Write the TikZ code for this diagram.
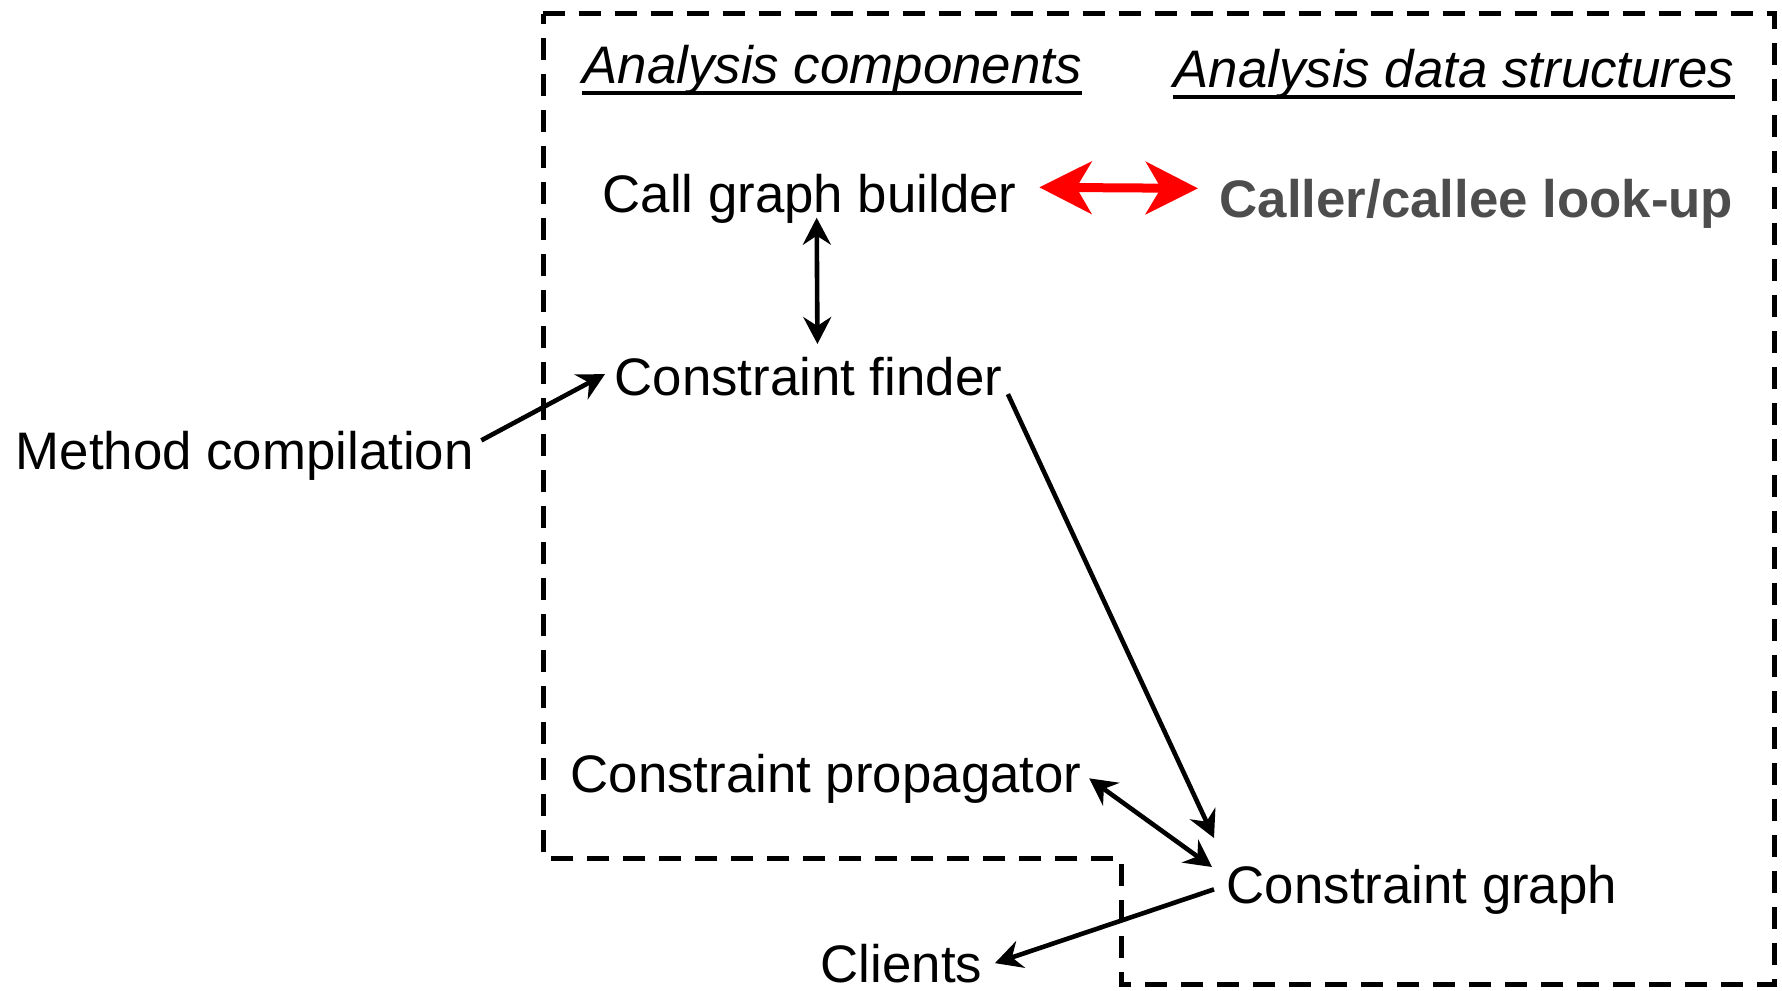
\documentclass[tikz,border=0pt]{standalone}
\usepackage{fontspec}
\setmainfont{Liberation Sans}
\usetikzlibrary{arrows.meta}
\definecolor{lookupgray}{RGB}{77,77,77}
\tikzset{every picture/.style={line width=0.75pt}}

\begin{document}
\begin{tikzpicture}[x=0.5pt,y=0.5pt,yscale=-1,xscale=1,
	lbl/.style={anchor=base west,inner sep=0pt,font=\fontsize{26.4pt}{30pt}\selectfont},
	conn/.style={line width=2.3pt,-{Stealth[length=13.5pt,width=14pt,inset=4.5pt]}},
	biconn/.style={line width=2.3pt,{Stealth[length=13.5pt,width=14pt,inset=4.5pt]}-{Stealth[length=13.5pt,width=14pt,inset=4.5pt]}},
	redconn/.style={line width=4.5pt,color=red,{Stealth[length=26pt,width=26pt,inset=7.5pt]}-{Stealth[length=26pt,width=26pt,inset=7.5pt]}}]
	\useasboundingbox (0,0) rectangle (1782,990);
	
	%Shape: Polygon [id:boundary] 
	\draw [line width=2.5pt, dash pattern=on 11pt off 7pt]  (543,14) -- (1774,14) -- (1774,984) -- (1121,984) -- (1121,858) -- (543,858) -- cycle ;
	
	% Text Node
	\draw (582,84) node [lbl,font=\fontsize{26.4pt}{30pt}\selectfont\itshape] (comp) {Analysis components};
	% Text Node
	\draw (1173,88) node [lbl,font=\fontsize{26.4pt}{30pt}\selectfont\itshape] (datas) {Analysis data structures};
	% Text Node
	\draw (602,212) node [lbl] (builder) {Call graph builder};
	% Text Node
	\draw (1219,217) node [lbl,font=\fontsize{26.4pt}{30pt}\selectfont\bfseries,color=lookupgray] (lookup) {Caller/callee look-up};
	% Text Node
	\draw (614,395) node [lbl] (finder) {Constraint finder};
	% Text Node
	\draw (15,469) node [lbl] (method) {Method compilation};
	% Text Node
	\draw (570,792) node [lbl] (prop) {Constraint propagator};
	% Text Node
	\draw (1226,903) node [lbl] (cgraph) {Constraint graph};
	% Text Node
	\draw (820,982) node [lbl] (clients) {Clients};
	
	%Straight Lines [id:underlines] 
	\draw [line width=2pt]  ([yshift=4.5pt]comp.base west) -- ([yshift=4.5pt]comp.base east) ;
	\draw [line width=2pt]  ([yshift=4.5pt]datas.base west) -- ([yshift=4.5pt]datas.base east) ;
	
	%Straight Lines [id:lookup] 
	\draw [redconn]  ([shift={(22,-11)}]builder.east) -- ([shift={(-21,-15)}]lookup.west) ;
	%Straight Lines [id:builder-finder] 
	\draw [biconn]  ([xshift=3.5pt,yshift=-3pt]builder.south) -- ([xshift=4.5pt,yshift=-6pt]finder.north) ;
	%Straight Lines [id:method-finder] 
	\draw [conn]  ([xshift=3.5pt,yshift=-7.5pt]method.east) -- ([xshift=-4.5pt,yshift=-1pt]finder.west) ;
	%Straight Lines [id:finder-graph] 
	\draw [conn]  ([xshift=2.5pt,yshift=9pt]finder.east) -- ([xshift=-6pt,yshift=-13pt]cgraph.north west) ;
	%Straight Lines [id:prop-graph] 
	\draw [biconn]  ([xshift=3.5pt]prop.east) -- ([xshift=-7pt,yshift=1.5pt]cgraph.north west) ;
	%Straight Lines [id:graph-clients] 
	\draw [conn]  ([xshift=-6pt]cgraph.west) -- ([xshift=6pt]clients.east) ;
	
\end{tikzpicture}
\end{document}
